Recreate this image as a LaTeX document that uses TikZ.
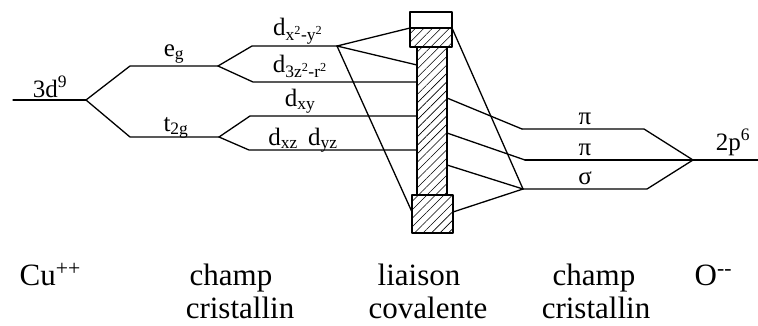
\documentclass[tikz,border=0pt]{standalone}
\usepackage{fontspec}
\setmainfont{Liberation Serif}
\usetikzlibrary{patterns.meta}
\begin{document}
\begin{tikzpicture}[x=1pt,y=-1pt, line width=1.3pt, line cap=round, line join=round,
  lvl/.style={font=\fontsize{25}{27}\selectfont, anchor=base, inner sep=0pt},
  big/.style={font=\fontsize{31}{34}\selectfont, anchor=base, inner sep=0pt},
  hatch/.style={pattern={Lines[angle=45,distance=6pt,line width=0.6pt]}},
  level/.style={line width=1.3pt},
  link/.style={line width=1.3pt}]
\useasboundingbox (0,0) rectangle (758,325);

% ---- Cu side levels
\coordinate (a1) at (13,100);  \coordinate (a2) at (86,100);
\coordinate (e1) at (130,66);  \coordinate (e2) at (218,66);
\coordinate (t1) at (130,137); \coordinate (t2) at (219,137);
\coordinate (x1) at (252,46);  \coordinate (x2) at (337,46);
\coordinate (z1) at (253,82);  \coordinate (z2) at (417,82);
\coordinate (y1) at (250,116); \coordinate (y2) at (417,116);
\coordinate (w1) at (249,150); \coordinate (w2) at (417,150);

\draw[level] (a1) -- (a2);
\draw[level] (a2) -- (e1) -- (e2);
\draw[level] (a2) -- (t1) -- (t2);
\draw[level] (e2) -- (x1) -- (x2);
\draw[level] (e2) -- (z1) -- (z2);
\draw[level] (t2) -- (y1) -- (y2);
\draw[level] (t2) -- (w1) -- (w2);

% ---- central covalent column
\fill[hatch] (410,28) rectangle (452,47);
\draw (410,12) rectangle (452,47);
\draw (410,28) -- (452,28);
\fill[hatch] (417,47) rectangle (447,195);
\draw (417,47) rectangle (447,195);
\fill[hatch] (412,195) rectangle (453,233);
\draw (412,195) rectangle (453,233);

\coordinate (bTopL) at (410,28);
\coordinate (bTopR) at (452,28);
\coordinate (cL1) at (417,65);
\coordinate (bBotL) at (412,212);
\coordinate (bBotR) at (453,212);
\coordinate (cR1) at (447,98);
\coordinate (cR2) at (447,133);
\coordinate (cR3) at (447,165);

\draw[link] (x2) -- (bTopL);
\draw[link] (x2) -- (cL1);
\draw[link] (x2) -- (bBotL);

% ---- O side levels
\coordinate (p1) at (522,129); \coordinate (p2) at (644,129);
\coordinate (q1) at (525,160); \coordinate (q2) at (693,160);
\coordinate (s1) at (523,189); \coordinate (s2) at (647,189);
\coordinate (o2) at (758,160);

\draw[link] (cR1) -- (p1);
\draw[link] (cR2) -- (q1);
\draw[link] (cR3) -- (s1);
\draw[link] (bBotR) -- (s1);
\draw[link] (bTopR) -- (s1);

\draw[level] (p1) -- (p2) -- (q2);
\draw[level] (q1) -- (q2);
\draw[level] (s1) -- (s2) -- (q2);
\draw[level] (q2) -- (o2);

% ---- level labels
\node[lvl] (l3d) at (50,97) {3d\textsuperscript{9}};
\node[lvl] (leg) at (174,56) {e\textsubscript{g}};
\node[lvl] (lt2g) at (176,131) {t\textsubscript{2g}};
\node[lvl] (lx) at (298,35) {d\textsubscript{x\textsuperscript{2}-y\textsuperscript{2}}};
\node[lvl] (lz) at (300,72) {d\textsubscript{3z\textsuperscript{2}-r\textsuperscript{2}}};
\node[lvl] (lxy) at (300,106) {d\textsubscript{xy}};
\node[lvl] (lxz) at (303,145) {d\textsubscript{xz}\hspace{0.4em}d\textsubscript{yz}};
\node[lvl] (lpi1) at (585,124) {π};
\node[lvl] (lpi2) at (585,155) {π};
\node[lvl] (lsig) at (585,184) {σ};
\node[lvl] (l2p) at (733,150) {2p\textsuperscript{6}};

% ---- bottom captions
\node[big, anchor=base west] (cu) at (19,285) {Cu\textsuperscript{++}};
\node[big] (ch1) at (231,285) {champ};
\node[big] (cr1) at (240,318) {cristallin};
\node[big] (li) at (419,285) {liaison};
\node[big] (co) at (428,318) {covalente};
\node[big] (ch2) at (594,285) {champ};
\node[big] (cr2) at (596,318) {cristallin};
\node[big, anchor=base west] (ox) at (694,285) {O\textsuperscript{{-}{-}}};
\end{tikzpicture}
\end{document}
